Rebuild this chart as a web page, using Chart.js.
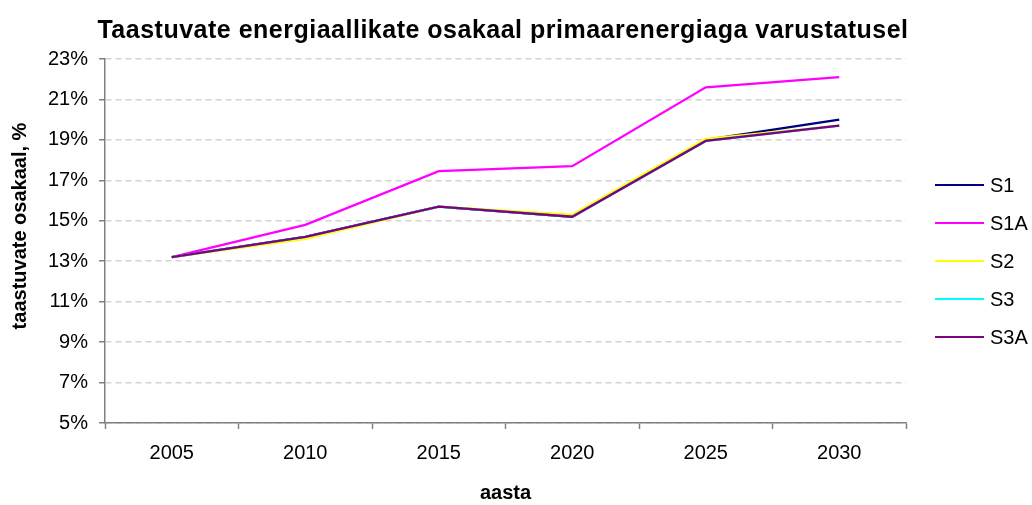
<!DOCTYPE html>
<html>
<head>
<meta charset="utf-8">
<title>Taastuvate energiaallikate osakaal</title>
<script src="https://cdn.jsdelivr.net/npm/chart.js@4/dist/chart.umd.min.js"></script>
<style>
  html, body { margin: 0; padding: 0; background: #fff; }
  #wrap { width: 1032px; height: 505px; }
</style>
</head>
<body>
<div id="wrap"><canvas id="energyChart" width="1032" height="505"></canvas></div>
<script>
'use strict';

// Data (share of renewables, %)
const years = ['2005', '2010', '2015', '2020', '2025', '2030'];
const seriesNames = ['S1', 'S1A', 'S2', 'S3', 'S3A'];
const s1 = [13.2, 14.2, 15.7, 15.2, 19.0, 20.0];
const s1a = [13.2, 14.8, 17.45, 17.7, 21.6, 22.1];
const s2 = [13.2, 14.1, 15.7, 15.3, 19.05, 19.7];
const s3 = [13.2, 14.2, 15.7, 15.2, 18.95, 19.7];
const s3a = [13.2, 14.2, 15.7, 15.2, 18.95, 19.7];
const seriesColors = ['#000080', '#ff00ff', '#ffff00', '#00ffff', '#800080'];

const chartTitle = 'Taastuvate energiaallikate osakaal primaarenergiaga varustatusel';
const yTitle = 'taastuvate osakaal, %';
const fontFamily = '"Liberation Sans", Arial, sans-serif';

// Title, y axis title and legend are drawn by hand so they land where Excel put them
const titleAndLegend = {
  id: 'titleAndLegend',
  afterDraw(chart) {
    const ctx = chart.ctx;
    ctx.save();
    ctx.fillStyle = '#000';
    ctx.font = 'bold 25px ' + fontFamily;
    ctx.textAlign = 'center';
    ctx.textBaseline = 'middle';
    ctx.letterSpacing = '0.5px';
    ctx.fillText(chartTitle, 503, 31);
    ctx.letterSpacing = '0px';

    // y axis title, rotated
    ctx.save();
    ctx.translate(20, 226);
    ctx.rotate(-Math.PI / 2);
    ctx.font = 'bold 20px ' + fontFamily;
    ctx.fillText(yTitle, 0, 0);
    ctx.restore();

    // legend
    ctx.font = '20px ' + fontFamily;
    ctx.textAlign = 'left';
    seriesNames.forEach((name, i) => {
      const y = 185 + i * 38;
      ctx.strokeStyle = seriesColors[i];
      ctx.lineWidth = 2;
      ctx.beginPath();
      ctx.moveTo(935, y);
      ctx.lineTo(984, y);
      ctx.stroke();
      ctx.fillText(name, 990, y + 1);
    });
    ctx.restore();
  }
};

const allSeries = [s1, s1a, s2, s3, s3a];

const ctx = document.getElementById('energyChart').getContext('2d');
const myChart = new Chart(ctx, {
  type: 'line',
  data: {
    labels: years,
    datasets: allSeries.map((values, i) => ({
      label: seriesNames[i],
      data: values,
      borderColor: seriesColors[i],
      backgroundColor: seriesColors[i],
      borderWidth: 2.25,
      pointRadius: 0,
      tension: 0,
      fill: false,
      // later series drawn on top, like in Excel
      order: allSeries.length - i
    }))
  },
  plugins: [titleAndLegend],
  options: {
    responsive: false,
    animation: false,
    devicePixelRatio: 1,
    layout: {
      padding: { left: 0, right: 126, top: 59, bottom: 0 }
    },
    plugins: {
      legend: { display: false },
      title: { display: false },
      tooltip: { enabled: false }
    },
    scales: {
      x: {
        type: 'category',
        offset: true,
        afterFit(scale) { scale.height = 82; },
        grid: {
          offset: true,
          drawOnChartArea: false,
          drawTicks: true,
          tickLength: 6,
          tickColor: '#808080',
          tickWidth: 1.5
        },
        border: { color: '#808080', width: 1.5 },
        ticks: {
          color: '#000',
          font: { family: fontFamily, size: 20 },
          padding: 12,
          maxRotation: 0,
          autoSkip: false
        },
        title: {
          display: true,
          text: 'aasta',
          color: '#000',
          font: { family: fontFamily, size: 20, weight: 'bold' },
          padding: { top: 0, bottom: 0 }
        }
      },
      y: {
        min: 5,
        max: 23,
        afterFit(scale) { scale.width = 105; },
        grid: {
          color: '#d4d4d4',
          lineWidth: 1.5,
          borderDash: [6, 4],
          tickLength: 6,
          tickColor: '#808080',
          tickWidth: 1.5,
          tickBorderDash: []
        },
        border: { color: '#808080', width: 1.5, dash: [6, 4] },
        ticks: {
          stepSize: 2,
          color: '#000',
          padding: 11,
          font: { family: fontFamily, size: 20 },
          callback: (v) => v + '%'
        },
        title: { display: false }
      }
    }
  }
});
</script>
</body>
</html>
